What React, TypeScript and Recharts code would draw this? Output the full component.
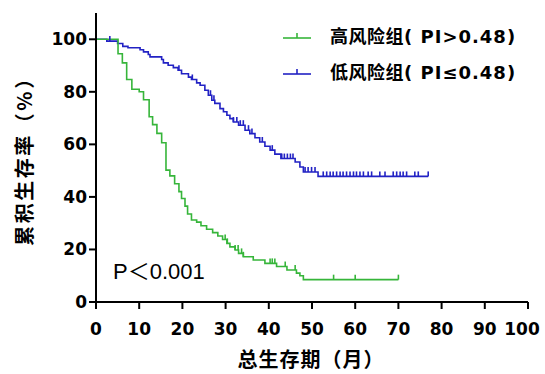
import { ComposedChart, Line, Scatter, XAxis, YAxis, Legend } from 'recharts';

// high risk group (PI > 0.48): step times (months) and survival (%)
const highTimes = [0, 5.1, 6.1, 7.1, 8.3, 10.0, 11.0, 12.3, 13.1, 14.1, 15.2, 16.2, 17.1, 18.2, 19.2, 19.8, 20.6, 21.2, 22.1, 23.3, 24.3, 25.6, 27.0, 28.2, 29.3, 30.3, 31.0, 32.2, 33.0, 34.1, 36.4, 39.1, 41.8, 44.2, 46.4, 47.2, 48.0, 70];
const highSurv = [100, 94.5, 91, 84.7, 81, 80, 77, 70.5, 67.5, 64.2, 60.6, 50.2, 48, 45, 42, 39.4, 36.5, 33.5, 31.2, 30.4, 29, 27.7, 26.4, 25.1, 23.8, 22.3, 21, 19.8, 18.5, 17.2, 16, 14.7, 13.5, 12.2, 11, 10, 8.5, 8.5];
const highCensor = [29.9, 30.4, 32.2, 32.9, 33.7, 34.1, 40.3, 40.8, 41.4, 43.8, 46.1, 55, 60, 70];

// low risk group (PI <= 0.48)
const lowTimes = [0, 2.5, 5.0, 6.2, 7.4, 10.2, 11.0, 12.1, 12.5, 15.2, 15.6, 16.7, 17.9, 19.0, 19.8, 21.4, 22.1, 23.3, 24.1, 25.2, 26.0, 26.8, 27.5, 28.7, 29.5, 30.3, 31.0, 31.8, 33.0, 34.5, 35.6, 36.8, 37.9, 39.1, 40.3, 41.4, 42.8, 46.1, 47.2, 48.0, 51.4, 76.9];
const lowSurv = [100, 99.3, 98.4, 97.3, 96.8, 96.0, 95.2, 94.2, 93.3, 92.3, 91.0, 90.1, 89.2, 88.2, 86.9, 85.6, 84.7, 83.4, 82.5, 80.6, 78.7, 76.8, 75.6, 73.6, 72.4, 71.1, 69.8, 68.5, 67.3, 65.4, 64.1, 62.5, 60.9, 59.3, 57.8, 56.3, 54.6, 53.3, 51.4, 49.5, 47.8, 47.8];
const lowCensor = [3.2, 19.2, 22.3, 26.5, 27.3, 31.8, 32.6, 33.4, 34.1, 35.3, 36.1, 38.5, 40.8, 43.0, 43.6, 44.3, 45.0, 45.6, 48.4, 49.1, 49.9, 50.7, 52.6, 53.4, 54.2, 54.9, 55.7, 56.5, 57.2, 58.0, 58.8, 59.6, 60.3, 61.1, 61.9, 63.0, 63.8, 65.7, 66.9, 68.8, 69.6, 70.4, 71.1, 71.9, 73.8, 74.6, 76.9];

const xTicks = [0, 10, 20, 30, 40, 50, 60, 70, 80, 90, 100];
const yTicks = [0, 20, 40, 60, 80, 100];

const GREEN = '#36b53a';
const BLUE = '#2222c4';

const toSteps = (times: number[], surv: number[]) => times.map((t, i) => ({ t, s: surv[i] }));

// survival value at time t (last step at or before t)
const survAt = (times: number[], surv: number[], t: number) => {
  let v = surv[0];
  for (let i = 0; i < times.length; i++) {
    if (times[i] <= t) v = surv[i];
  }
  return v;
};

const toCensor = (times: number[], surv: number[], cens: number[]) =>
  cens.map((t) => ({ t, s: survAt(times, surv, t) }));

const highData = toSteps(highTimes, highSurv);
const lowData = toSteps(lowTimes, lowSurv);
const highCens = toCensor(highTimes, highSurv, highCensor);
const lowCens = toCensor(lowTimes, lowSurv, lowCensor);

const legendItems = [
  { name: '高风险组', rest: '( PI>0.48)', color: GREEN },
  { name: '低风险组', rest: '( PI≤0.48)', color: BLUE },
];

const censorShape = (color: string) => (props: any) => {
  const { cx, cy } = props;
  return <line x1={cx} y1={cy} x2={cx} y2={cy - 5} stroke={color} strokeWidth={1.6} />;
};

const LegendBox = () => (
  <div>
    {legendItems.map((item) => (
      <div key={item.name} style={{ display: 'flex', alignItems: 'center', height: 36 }}>
        <svg width={30} height={12}>
          <line x1={1} y1={9} x2={29} y2={9} stroke={item.color} strokeWidth={1.6} />
          <line x1={15} y1={9} x2={15} y2={4} stroke={item.color} strokeWidth={1.6} />
        </svg>
        <span style={{ marginLeft: 18, fontSize: 18, fontWeight: 'bold', color: '#000', whiteSpace: 'nowrap' }}>
          <span style={{ fontFamily: "'Noto Sans CJK SC'", letterSpacing: 0.5 }}>{item.name}</span>
          <span style={{ fontFamily: "'DejaVu Sans', 'Noto Sans CJK SC'", letterSpacing: 1 }}>{item.rest}</span>
        </span>
      </div>
    ))}
  </div>
);

const tickFont = { fontSize: 17, fontWeight: 'bold', fontFamily: "'DejaVu Sans', sans-serif" };

// x tick labels; the last one sits a little left so it stays inside the frame
const XTick = (props: any) => {
  const { x, y, payload } = props;
  const shift = payload.value === 100 ? -6 : 0;
  return (
    <text x={x + shift} y={y} dy="0.71em" textAnchor="middle" fill="#000" {...tickFont}>
      {payload.value}
    </text>
  );
};

export default function App() {
  return (
    <div style={{ position: 'absolute', left: 0, top: 0, background: '#fff' }}>
      <ComposedChart width={545} height={374} margin={{ top: 13, right: 17, left: 16, bottom: 27 }}>
        <XAxis
          type="number"
          dataKey="t"
          domain={[0, 100]}
          ticks={xTicks}
          interval={0}
          axisLine={{ stroke: '#000', strokeWidth: 2 }}
          tickLine={{ stroke: '#000', strokeWidth: 2 }}
          tickSize={7}
          tickMargin={14}
          height={45}
          tick={<XTick />}
        />
        <YAxis
          type="number"
          dataKey="s"
          domain={[0, 110]}
          ticks={yTicks}
          interval={0}
          axisLine={{ stroke: '#000', strokeWidth: 2 }}
          tickLine={{ stroke: '#000', strokeWidth: 2 }}
          tickSize={7}
          tickMargin={2}
          width={80}
          tick={{ fill: '#000', ...tickFont }}
        />
        <Legend
          layout="vertical"
          align="center"
          verticalAlign="middle"
          wrapperStyle={{ left: 282, top: 17, width: 262 }}
          content={<LegendBox />}
        />
        <Line data={lowData} dataKey="s" type="stepAfter" stroke={BLUE} strokeWidth={1.6} dot={false} isAnimationActive={false} legendType="none" />
        <Line data={highData} dataKey="s" type="stepAfter" stroke={GREEN} strokeWidth={1.6} dot={false} isAnimationActive={false} legendType="none" />
        <Scatter data={lowCens} dataKey="s" shape={censorShape(BLUE)} isAnimationActive={false} legendType="none" />
        <Scatter data={highCens} dataKey="s" shape={censorShape(GREEN)} isAnimationActive={false} legendType="none" />
        <text
          x={23}
          y={156}
          transform="rotate(-90, 23, 156)"
          textAnchor="middle"
          dominantBaseline="central"
          fontSize={20}
          fontWeight="bold"
          letterSpacing={2.5}
          fontFamily="'Noto Sans CJK SC'"
          fill="#000"
        >
          累积生存率（%）
        </text>
        <text
          x={311}
          y={358}
          textAnchor="middle"
          dominantBaseline="central"
          fontSize={20}
          fontWeight="bold"
          letterSpacing={1}
          fontFamily="'Noto Sans CJK SC'"
          fill="#000"
        >
          总生存期（月）
        </text>
        <text
          x={113}
          y={271}
          dominantBaseline="central"
          fontSize={22}
          fontFamily="'Liberation Sans', 'Noto Sans CJK SC', sans-serif"
          fill="#000"
        >
          P＜0.001
        </text>
      </ComposedChart>
    </div>
  );
}
